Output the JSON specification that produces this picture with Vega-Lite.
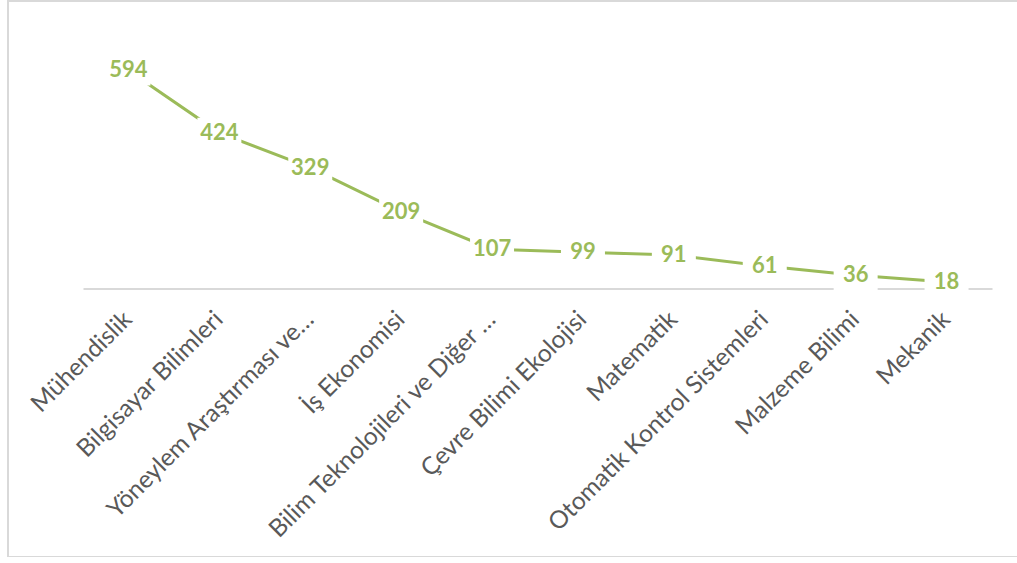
{
  "$schema": "https://vega.github.io/schema/vega-lite/v6.json",
  "autosize": {"type": "none"},
  "width": 1030,
  "height": 556,
  "padding": {"left": 8, "top": 1, "right": 0, "bottom": 0},
  "background": "white",
  "config": {"view": {"stroke": "#d9d9d9", "strokeWidth": 2}},
  "data": {"values": [
    {"alan": "Mühendislik", "sayi": 594},
    {"alan": "Bilgisayar Bilimleri", "sayi": 424},
    {"alan": "Yöneylem Araştırması ve…", "sayi": 329},
    {"alan": "İş Ekonomisi", "sayi": 209},
    {"alan": "Bilim Teknolojileri ve Diğer …", "sayi": 107},
    {"alan": "Çevre Bilimi Ekolojisi", "sayi": 99},
    {"alan": "Matematik", "sayi": 91},
    {"alan": "Otomatik Kontrol Sistemleri", "sayi": 61},
    {"alan": "Malzeme Bilimi", "sayi": 36},
    {"alan": "Mekanik", "sayi": 18}
  ]},
  "encoding": {
    "x": {
      "field": "alan", "type": "nominal", "sort": null,
      "scale": {"type": "band", "range": [75, 984], "paddingInner": 0, "paddingOuter": 0},
      "axis": {
        "title": null, "offset": -268.5, "ticks": false, "grid": false,
        "domainColor": "#d9d9d9", "domainWidth": 2,
        "labelAngle": -45, "labelAlign": "right", "labelBaseline": "middle",
        "labelPadding": 27, "labelFont": "Lato", "labelFontSize": 24.5,
        "labelColor": "#595959", "labelLimit": 500
      }
    },
    "y": {
      "field": "sayi", "type": "quantitative",
      "scale": {"domain": [0, 700], "range": [287.5, 30.5], "nice": false, "zero": true},
      "axis": null
    }
  },
  "layer": [
    {"mark": {"type": "line", "color": "#9bbb59", "strokeWidth": 3}},
    {"mark": {"type": "point", "shape": "M-1,-0.68H1V0.68H-1Z", "filled": true, "color": "white", "opacity": 1, "size": 1936, "strokeWidth": 0}},
    {"mark": {"type": "text", "font": "Lato", "fontWeight": "bold", "fontSize": 22, "color": "#9bbb59", "align": "center", "baseline": "middle"},
     "encoding": {"text": {"field": "sayi", "type": "quantitative"}}}
  ]
}
